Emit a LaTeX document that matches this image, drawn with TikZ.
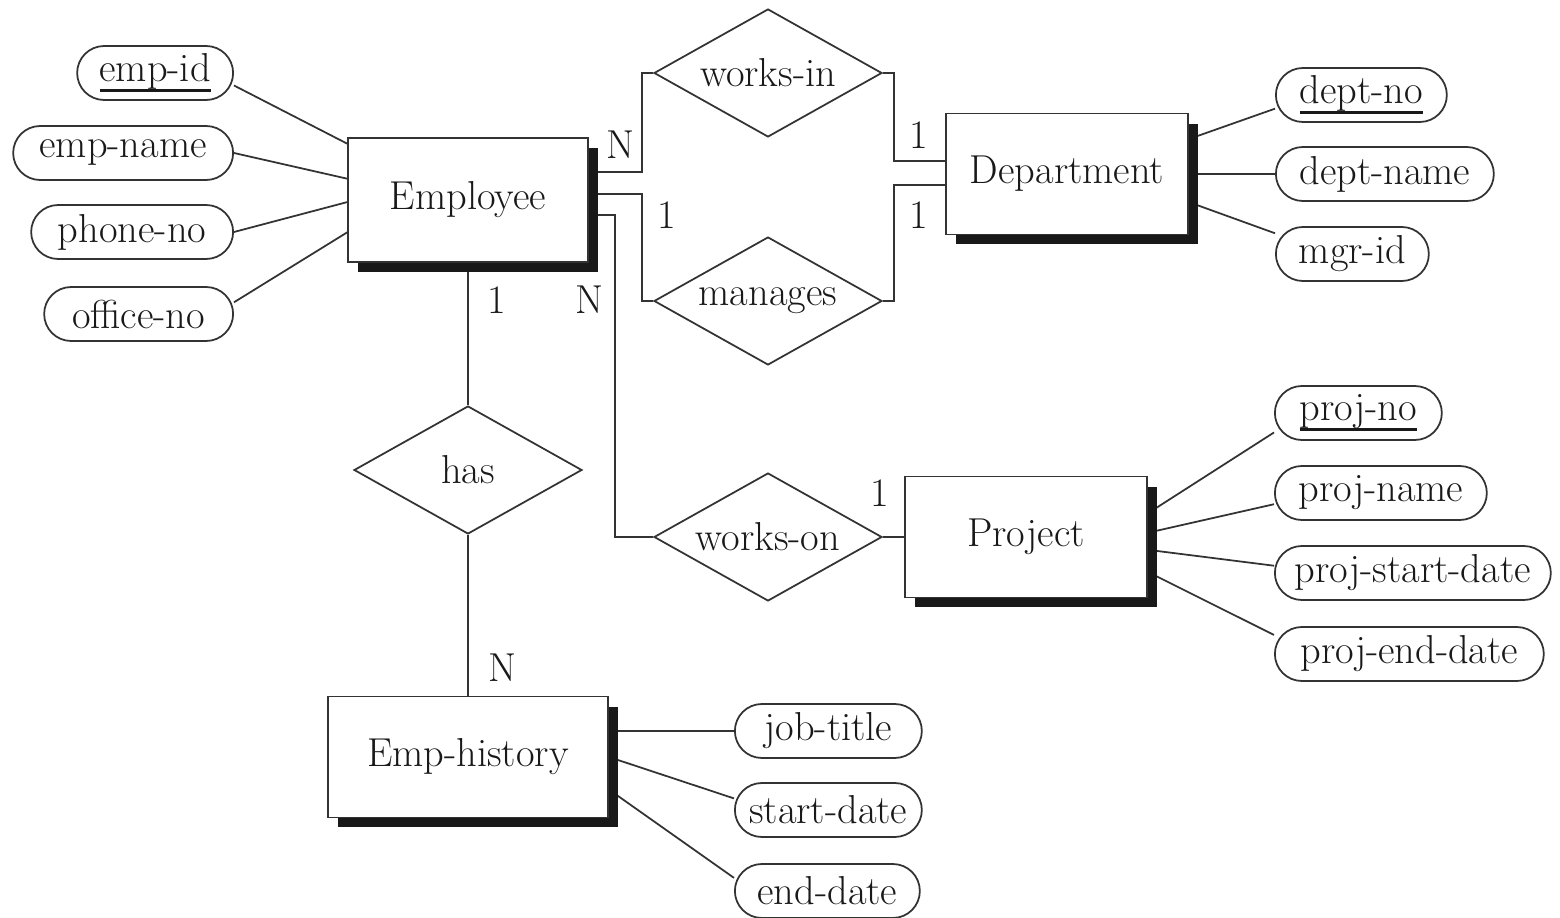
\documentclass[tikz,border=0pt]{standalone}
\usepackage{fontspec}
\usetikzlibrary{shapes.geometric,shadows}

% key attribute: thick underline
\newcommand{\erkey}[1]{\setbox0=\hbox{#1}\rlap{\vrule height -4.4pt depth 6pt width \wd0}\box0}

\pgfdeclarelayer{background}
\pgfsetlayers{background,main}

\begin{document}
\begin{tikzpicture}[
  x=0.02cm, y=-0.02cm,
  erbase/.style = {font=\fontsize{23}{27}\selectfont, text=black!90},
  erentity/.style = {erbase, draw=black!80, line width=1pt, fill=white,
    inner sep=0pt,
    general shadow={fill=black!90, shadow xshift=0.2cm, shadow yshift=-0.2cm}},
  errel/.style = {erbase, diamond, aspect=1.8, draw=black!80, line width=1pt,
    fill=white, inner sep=0pt, minimum width=4.56cm, minimum height=2.56cm},
  erattr/.style = {erbase, rectangle, rounded corners=0.54cm, draw=black!80,
    line width=1pt, fill=white, inner sep=0pt, minimum height=1.08cm},
  erlink/.style = {draw=black!80, line width=1pt},
  ercard/.style = {erbase}
]
  \useasboundingbox (0,0) rectangle (1560,918);

  % entities
  \node[erentity, minimum width=4.8cm, minimum height=2.48cm] (emp) at (468,200) {Employee};
  \node[erentity, minimum width=4.84cm, minimum height=2.42cm] (dept) at (1067,174) {Department};
  \node[erentity, minimum width=4.84cm, minimum height=2.42cm] (proj) at (1026,537) {Project};
  \node[erentity, minimum width=5.6cm, minimum height=2.42cm] (hist) at (468,757) {Emp-history};

  % relationships
  \node[errel] (worksin) at (768,73) {works-in};
  \node[errel] (manages) at (768,301) {manages};
  \node[errel] (has) at (468,470) {has};
  \node[errel] (workson) at (768,537) {works-on};

  % attributes of Employee
  \node[erattr, anchor=east, minimum width=3.12cm] (empid) at (234,73) {\erkey{emp-id}};
  \node[erattr, anchor=east, minimum width=4.4cm] (empname) at (234,153) {emp-name};
  \node[erattr, anchor=east, minimum width=4.04cm] (phoneno) at (234,232) {phone-no};
  \node[erattr, anchor=east, minimum width=3.78cm] (officeno) at (234,314) {office-no};

  % attributes of Department
  \node[erattr, anchor=west, minimum width=3.42cm] (deptno) at (1275,95) {\erkey{dept-no}};
  \node[erattr, anchor=west, minimum width=4.36cm] (deptname) at (1275,174) {dept-name};
  \node[erattr, anchor=west, minimum width=3.06cm] (mgrid) at (1275,254) {mgr-id};

  % attributes of Project
  \node[erattr, anchor=west, minimum width=3.34cm] (projno) at (1274,413) {\erkey{proj-no}};
  \node[erattr, anchor=west, minimum width=4.24cm] (projname) at (1274,493) {proj-name};
  \node[erattr, anchor=west, minimum width=5.52cm] (projstart) at (1274,573) {proj-start-date};
  \node[erattr, anchor=west, minimum width=5.38cm] (projend) at (1274,654) {proj-end-date};

  % attributes of Emp-history
  \node[erattr, anchor=west, minimum width=3.74cm] (jobtitle) at (734,731) {job-title};
  \node[erattr, anchor=west, minimum width=3.74cm] (startdate) at (734,810) {start-date};
  \node[erattr, anchor=west, minimum width=3.7cm] (enddate) at (734,891) {end-date};

  \begin{pgfonlayer}{background}
  % attribute links
  \draw[erlink] (empid.-9) -- (emp.155.8);
  \draw[erlink] (empname.east) -- (emp.170.5);
  \draw[erlink] (phoneno.east) -- (emp.181.4);
  \draw[erlink] (officeno.7) -- (emp.195.4);
  \draw[erlink] (dept.16.3) -- (deptno.189.6);
  \draw[erlink] (deptname.west) -- (deptname.west -| dept.east);
  \draw[erlink] (dept.-13.6) -- (mgrid.165.4);
  \draw[erlink] (proj.11.7) -- (projno.193.9);
  \draw[erlink] (proj.2.3) -- (projname.186.5);
  \draw[erlink] (proj.-6.5) -- (projstart.177.1);
  \draw[erlink] (proj.-16.7) -- (projend.172.4);
  \draw[erlink] (jobtitle.west) -- (jobtitle.west -| hist.east);
  \draw[erlink] (hist.east) -- (startdate.173.6);
  \draw[erlink] (hist.-13.8) -- (enddate.172.9);

  % relationship links
  \draw[erlink] (worksin.west) -- ++(-11,0) |- (emp.13);
  \draw[erlink] (manages.west) -- ++(-11,0) |- (emp.3);
  \draw[erlink] (workson.west) -- ++(-38,0) |- (emp.-7.6);
  \draw[erlink] (worksin.east) -- ++(11,0) |- (dept.174.3);
  \draw[erlink] (manages.east) -- ++(11,0) |- (dept.185.7);
  \draw[erlink] (workson) -- (proj);
  \draw[erlink] (emp) -- (has);
  \draw[erlink] (has) -- (hist);
  \end{pgfonlayer}

  % cardinalities
  \node[ercard] (nWorksin) at (620,145) {N};
  \node[ercard] (oManagesE) at (667,215) {1};
  \node[ercard] (oWorksinD) at (919,135) {1};
  \node[ercard] (oManagesD) at (919,215) {1};
  \node[ercard] (nWorkson) at (589,300) {N};
  \node[ercard] (oHasE) at (497,300) {1};
  \node[ercard] (oWorksonP) at (880,493) {1};
  \node[ercard] (nHasH) at (502,668) {N};
\end{tikzpicture}
\end{document}
